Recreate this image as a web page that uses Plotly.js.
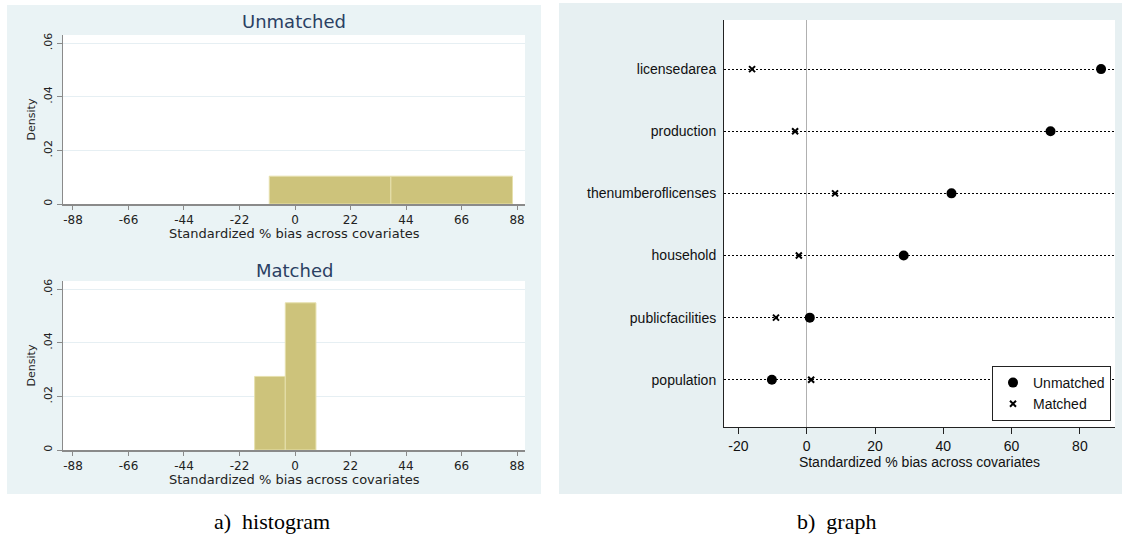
<!DOCTYPE html>
<html>
<head>
<meta charset="utf-8">
<script src="https://cdn.plot.ly/plotly-3.0.1.min.js"></script>
<style>
  html, body { margin: 0; padding: 0; background: #ffffff; }
  #chart { width: 1128px; height: 537px; }
</style>
</head>
<body>
<div id="chart"></div>
<script>
// ---- data ----
const covariates = ['population', 'publicfacilities', 'household', 'thenumberoflicenses', 'production', 'licensedarea'];
const biasUnmatched = [-10.2, 0.9, 28.4, 42.4, 71.4, 86.2];
const biasMatched = [1.3, -9.0, -2.3, 8.3, -3.4, -16.0];
const seriesNames = ['Unmatched', 'Matched'];

// histogram tick labels
const histXTicks = [-88, -66, -44, -22, 0, 22, 44, 66, 88];
const histYTicks = [0, 0.02, 0.04, 0.06];
const histYTickText = ['0', '.02', '.04', '.06'];
// dot-plot tick labels
const dotXTicks = [-20, 0, 20, 40, 60, 80];

const HIST_BINS = 2;
const xTitle = 'Standardized % bias across covariates';

// ---- helpers (layout only) ----
const W = 1128, H = 537;
const px = v => v / W;
const py = v => 1 - v / H;

function binsFor(vals) {
  const lo = Math.min(...vals), hi = Math.max(...vals);
  const size = (hi - lo) / HIST_BINS * 1.0001;
  return { start: lo, end: lo + size * HIST_BINS, size: size };
}

const barColor = '#cdc37b';
const barLine = { color: '#e6e0ad', width: 1 };
const leftFont = 'DejaVu Sans, Verdana, sans-serif';
const rightFont = 'Liberation Sans, Arial, sans-serif';
const navy = '#2b3f63';
const leftText = '#222222';

const traces = [
  {
    type: 'histogram', x: biasUnmatched, xaxis: 'x', yaxis: 'y',
    histnorm: 'probability density', xbins: binsFor(biasUnmatched),
    marker: { color: barColor, line: barLine }, showlegend: false, hoverinfo: 'y'
  },
  {
    type: 'histogram', x: biasMatched, xaxis: 'x2', yaxis: 'y2',
    histnorm: 'probability density', xbins: binsFor(biasMatched),
    marker: { color: barColor, line: barLine }, showlegend: false, hoverinfo: 'y'
  },
  {
    type: 'scatter', mode: 'markers', name: seriesNames[0],
    x: biasUnmatched, y: covariates, xaxis: 'x3', yaxis: 'y3',
    marker: { symbol: 'circle', size: 10, color: '#000000' }
  },
  {
    type: 'scatter', mode: 'markers', name: seriesNames[1],
    x: biasMatched, y: covariates, xaxis: 'x3', yaxis: 'y3',
    marker: { symbol: 'x-thin-open', size: 6, color: '#000000', line: { color: '#000000', width: 2 } }
  }
];

function histX(anchor) {
  return {
    anchor: anchor,
    domain: [px(63), px(525)],
    range: [-91.95, 91.16],
    tickmode: 'array', tickvals: histXTicks, ticktext: histXTicks.map(String),
    ticks: 'outside', ticklen: 4, tickcolor: '#8a8a8a', tickwidth: 1,
    showline: true, linecolor: '#8a8a8a', linewidth: 1.5,
    showgrid: false, zeroline: false,
    tickfont: { family: leftFont, size: 12, color: leftText },
    fixedrange: true
  };
}
function histY(anchor, top, bottom) {
  return {
    anchor: anchor,
    domain: [py(bottom), py(top)],
    range: [0, 0.063],
    tickmode: 'array', tickvals: histYTicks, ticktext: histYTickText,
    tickangle: -90,
    ticks: 'outside', ticklen: 5, tickcolor: '#8a8a8a', tickwidth: 1,
    showline: true, linecolor: '#8a8a8a', linewidth: 1.5,
    showgrid: true, gridcolor: '#e6eff3', gridwidth: 1,
    zeroline: false,
    tickfont: { family: leftFont, size: 11, color: leftText },
    title: { text: 'Density', font: { family: leftFont, size: 11, color: leftText }, standoff: 4 },
    fixedrange: true
  };
}

const layout = {
  width: W, height: H,
  margin: { l: 0, r: 0, t: 0, b: 0 },
  paper_bgcolor: '#ffffff',
  plot_bgcolor: 'rgba(0,0,0,0)',
  showlegend: true,
  xaxis: histX('y'),
  yaxis: histY('x', 35, 204),
  xaxis2: histX('y2'),
  yaxis2: histY('x2', 281, 450),
  xaxis3: {
    anchor: 'y3',
    domain: [px(724), px(1115)],
    range: [-24.22, 90.28],
    tickmode: 'array', tickvals: dotXTicks, ticktext: dotXTicks.map(String),
    ticks: 'outside', ticklen: 6, tickcolor: '#222222', tickwidth: 1,
    showline: true, linecolor: '#222222', linewidth: 1,
    showgrid: false,
    zeroline: true, zerolinecolor: '#b0b0b0', zerolinewidth: 1.5,
    tickfont: { family: rightFont, size: 14, color: '#111111' },
    title: { text: xTitle, font: { family: rightFont, size: 14, color: '#111111' }, standoff: 4 },
    fixedrange: true
  },
  yaxis3: {
    anchor: 'x3',
    domain: [py(427), py(20)],
    type: 'category', categoryorder: 'array', categoryarray: covariates,
    range: [-0.76, 5.79],
    showline: true, linecolor: '#222222', linewidth: 1,
    ticks: '', ticklabelstandoff: 4,
    showgrid: true, gridcolor: '#000000', gridwidth: 1, griddash: '2px,2px',
    zeroline: false,
    tickfont: { family: rightFont, size: 14, color: '#111111' },
    fixedrange: true
  },
  legend: {
    x: px(1111), xanchor: 'right', y: py(366), yanchor: 'top',
    bgcolor: '#ffffff', bordercolor: '#222222', borderwidth: 1,
    font: { family: rightFont, size: 14, color: '#111111' },
    itemwidth: 30, tracegroupgap: 2
  },
  shapes: [
    { type: 'rect', layer: 'below', xref: 'paper', yref: 'paper',
      x0: px(7), x1: px(541), y0: py(494), y1: py(5),
      fillcolor: '#eaf3f5', line: { width: 0 } },
    { type: 'rect', layer: 'below', xref: 'paper', yref: 'paper',
      x0: px(559), x1: px(1122), y0: py(494), y1: py(3),
      fillcolor: '#e7f0f2', line: { width: 0 } },
    { type: 'rect', layer: 'below', xref: 'x domain', yref: 'y domain',
      x0: 0, x1: 1, y0: 0, y1: 1, fillcolor: '#ffffff', line: { width: 0 } },
    { type: 'rect', layer: 'below', xref: 'x2 domain', yref: 'y2 domain',
      x0: 0, x1: 1, y0: 0, y1: 1, fillcolor: '#ffffff', line: { width: 0 } },
    { type: 'rect', layer: 'below', xref: 'x3 domain', yref: 'y3 domain',
      x0: 0, x1: 1, y0: 0, y1: 1, fillcolor: '#ffffff', line: { width: 0 } }
  ],
  annotations: [
    { text: seriesNames[0], xref: 'x domain', yref: 'paper', x: 0.5, y: py(22),
      xanchor: 'center', yanchor: 'middle', showarrow: false,
      font: { family: leftFont, size: 18, color: navy } },
    { text: seriesNames[1], xref: 'x2 domain', yref: 'paper', x: 0.5, y: py(270),
      xanchor: 'center', yanchor: 'middle', showarrow: false,
      font: { family: leftFont, size: 18, color: navy } },
    { text: xTitle, xref: 'x domain', yref: 'paper', x: 0.5, y: py(224),
      xanchor: 'center', yanchor: 'top', showarrow: false,
      font: { family: leftFont, size: 13, color: leftText } },
    { text: xTitle, xref: 'x2 domain', yref: 'paper', x: 0.5, y: py(470),
      xanchor: 'center', yanchor: 'top', showarrow: false,
      font: { family: leftFont, size: 13, color: leftText } },
    { text: 'a)\u00a0\u00a0histogram', xref: 'paper', yref: 'paper', x: px(272), y: py(521),
      xanchor: 'center', yanchor: 'middle', showarrow: false,
      font: { family: 'Liberation Serif, Times New Roman, serif', size: 22, color: '#000000' } },
    { text: 'b)\u00a0\u00a0graph', xref: 'paper', yref: 'paper', x: px(836), y: py(521),
      xanchor: 'center', yanchor: 'middle', showarrow: false,
      font: { family: 'Liberation Serif, Times New Roman, serif', size: 22, color: '#000000' } }
  ]
};

Plotly.newPlot('chart', traces, layout, { displayModeBar: false, staticPlot: true });
</script>
</body>
</html>
